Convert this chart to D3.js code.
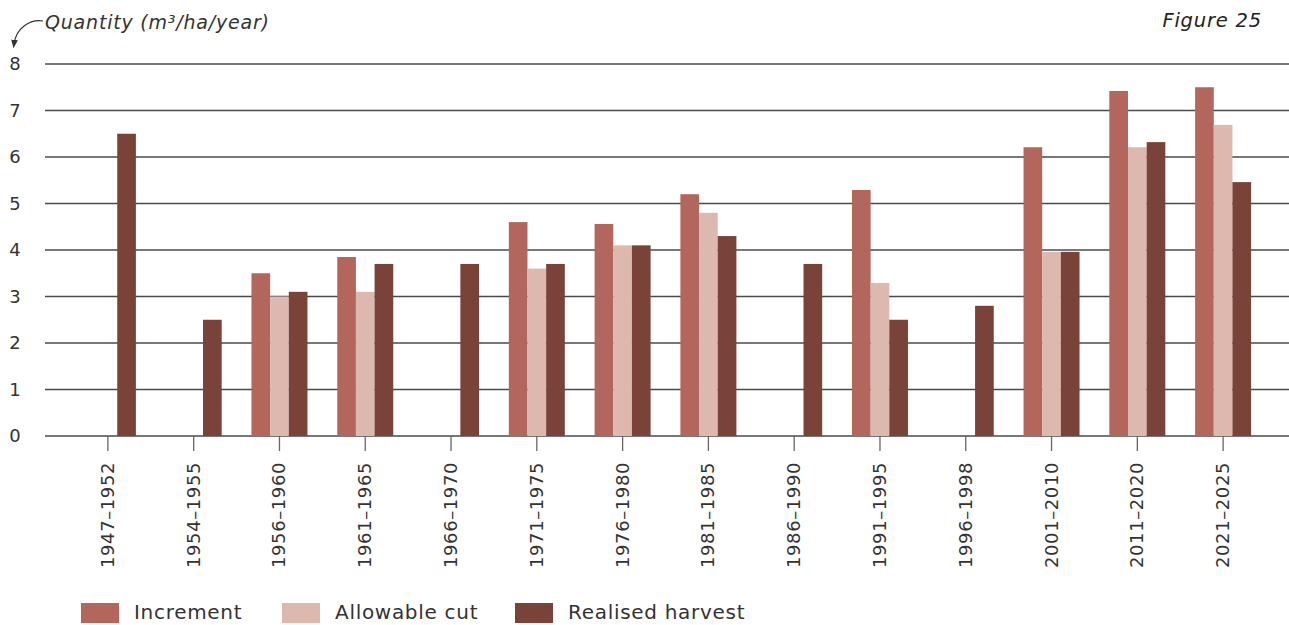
<!DOCTYPE html>
<html>
<head>
<meta charset="utf-8">
<script src="https://cdn.jsdelivr.net/npm/d3@7"></script>
<style>
  html, body { margin: 0; padding: 0; background: #fff; }
  svg { display: block; font-family: "DejaVu Sans", "Noto Sans", sans-serif; }
</style>
</head>
<body>
<svg id="chart" width="1289" height="625"></svg>
<script>
// Periods along the x axis
const periods = ["1947–1952", "1954–1955", "1956–1960", "1961–1965", "1966–1970",
  "1971–1975", "1976–1980", "1981–1985", "1986–1990", "1991–1995",
  "1996–1998", "2001–2010", "2011–2020", "2021–2025"];

// Series values (m³/ha/year); null = no bar
const increment    = [null, null, 3.5, 3.85, null, 4.6, 4.56, 5.2, null, 5.29, null, 6.21, 7.42, 7.5];
const allowableCut = [null, null, 3.0, 3.1,  null, 3.6, 4.1,  4.8, null, 3.29, null, 3.96, 6.21, 6.69];
const realised     = [6.5, 2.5, 3.1, 3.7, 3.7, 3.7, 4.1, 4.3, 3.7, 2.5, 2.8, 3.96, 6.32, 5.46];

const seriesNames = ["Increment", "Allowable cut", "Realised harvest"];
const seriesColors = ["#b3665c", "#dcb8af", "#7a433a"];
const yTicks = [0, 1, 2, 3, 4, 5, 6, 7, 8];

const svg = d3.select("#chart");
const seriesData = [increment, allowableCut, realised];

const x = d3.scaleBand().domain(periods).range([65, 1266]).padding(0);
const xSub = d3.scaleBand().domain(seriesNames).range([-28, 28]).padding(0);
const y = d3.scaleLinear().domain([0, 8]).range([436, 64]);

// Horizontal gridlines
svg.append("g").selectAll("line").data(yTicks).join("line")
  .attr("x1", 45).attr("x2", 1289)
  .attr("y1", d => y(d)).attr("y2", d => y(d))
  .attr("stroke", "#4a4a4a").attr("stroke-width", 1.3);

// Y tick labels
svg.append("g").selectAll("text").data(yTicks).join("text")
  .attr("x", 15).attr("y", d => y(d) + 6)
  .attr("text-anchor", "middle")
  .attr("font-size", 18).attr("fill", "#333")
  .text(d => d);

// Bars
const groups = svg.append("g").selectAll("g").data(periods).join("g")
  .attr("transform", d => `translate(${x(d) + x.bandwidth() / 2},0)`);

groups.selectAll("rect")
  .data((p, i) => seriesNames.map((s, k) => ({ s, k, v: seriesData[k][i] })).filter(d => d.v != null))
  .join("rect")
  .attr("x", d => xSub(d.s))
  .attr("width", xSub.bandwidth())
  .attr("y", d => y(d.v))
  .attr("height", d => y(0) - y(d.v))
  .attr("fill", d => seriesColors[d.k]);

// X axis ticks and rotated labels
const xAxis = svg.append("g");
xAxis.selectAll("line").data(periods).join("line")
  .attr("x1", d => x(d) + x.bandwidth() / 2).attr("x2", d => x(d) + x.bandwidth() / 2)
  .attr("y1", 436).attr("y2", 451)
  .attr("stroke", "#666").attr("stroke-width", 1.3);
xAxis.selectAll("text").data(periods).join("text")
  .attr("transform", d => `translate(${x(d) + x.bandwidth() / 2 + 6},462) rotate(-90)`)
  .attr("text-anchor", "end")
  .attr("font-size", 18).attr("letter-spacing", 0.6).attr("fill", "#333")
  .text(d => d);

// Axis title with curved arrow
const defs = svg.append("defs");
defs.append("marker").attr("id", "arrow")
  .attr("viewBox", "0 0 10 10").attr("refX", 5).attr("refY", 5)
  .attr("markerWidth", 7).attr("markerHeight", 7).attr("orient", "auto-start-reverse")
  .append("path").attr("d", "M0,1 L10,5 L0,9 Z").attr("fill", "#333");
svg.append("path")
  .attr("d", "M43,21 C30,19 16,28 14,44")
  .attr("fill", "none").attr("stroke", "#333").attr("stroke-width", 1.2)
  .attr("marker-end", "url(#arrow)");
svg.append("text").attr("x", 45).attr("y", 29)
  .attr("font-size", 19).attr("letter-spacing", 0.8).attr("font-style", "italic").attr("fill", "#333")
  .text("Quantity (m³/ha/year)");

svg.append("text").attr("x", 1262).attr("y", 27)
  .attr("text-anchor", "end")
  .attr("font-size", 19.5).attr("letter-spacing", 0.8).attr("font-style", "italic").attr("fill", "#222")
  .text("Figure 25");

// Legend
const legendX = [81, 282, 515];
const legend = svg.append("g").selectAll("g").data(seriesNames).join("g")
  .attr("transform", (d, i) => `translate(${legendX[i]},603)`);
legend.append("rect").attr("width", 38).attr("height", 20)
  .attr("fill", (d, i) => seriesColors[i]);
legend.append("text").attr("x", 53).attr("y", 16)
  .attr("font-size", 20).attr("letter-spacing", 0.7).attr("fill", "#333")
  .text(d => d);
</script>
</body>
</html>
